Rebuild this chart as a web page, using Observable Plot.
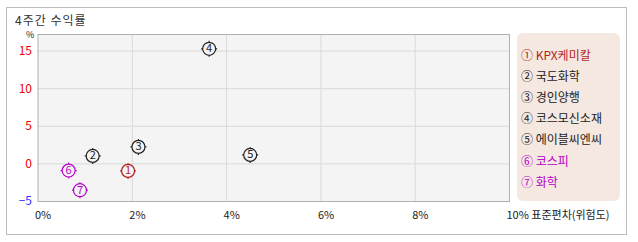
<!DOCTYPE html>
<html><head><meta charset="utf-8">
<script src="https://cdn.jsdelivr.net/npm/d3@7"></script>
<script src="https://cdn.jsdelivr.net/npm/@observablehq/plot@0.6"></script>
<style>
body{margin:0;background:#fff;font-family:"Noto Sans CJK KR","Noto Sans",sans-serif;}
#wrap{position:relative;width:638px;height:242px;overflow:hidden;}
#border{position:absolute;left:6px;top:7px;width:621px;height:228px;border:1px solid #bdbdbd;box-sizing:border-box;}
#title{position:absolute;left:15px;top:14px;font-size:12px;color:#333;line-height:12px;letter-spacing:1px;}
#chart{position:absolute;left:0;top:0;}
#legend{position:absolute;left:517px;top:33px;width:103px;height:168px;background:#f5e8e1;border-radius:6px;}
.li{position:absolute;left:4px;font-size:12px;line-height:16px;white-space:nowrap;}
</style></head>
<body><div id="wrap"><div id="border"></div><div id="title">4주간 수익률</div><div id="chart"></div><div id="legend"></div></div>
<script>
const names = ["KPX케미칼","국도화학","경인양행","코스모신소재","에이블씨엔씨","코스피","화학"];
const marks = ["①","②","③","④","⑤","⑥","⑦"];
const risk = [1.91,1.16,2.13,3.63,4.50,0.65,0.89];
const ret = [-0.93,1.06,2.26,15.3,1.19,-0.89,-3.5];
const kind = ["target","peer","peer","peer","peer","index","index"];
const xTicks = [0,2,4,6,8,10];
const yTicksPos = [0,5,10,15];
const yTicksNeg = [-5];
const xTitle = "표준편차(위험도)";
const yUnit = "%";

const kindColor = {target:"#b41e1e", peer:"#222222", index:"#b400c8"};
const data = names.map((n,i)=>({name:n, mark:marks[i], num:String(i+1), x:risk[i], y:ret[i], kind:kind[i]}));

const symbol = {draw(ctx, size){
  const r = Math.sqrt(size/Math.PI);
  ctx.moveTo(r,0); ctx.arc(0,0,r,0,2*Math.PI);
  ctx.moveTo(0,-r); ctx.lineTo(0,-r-1.5);
  ctx.moveTo(0,r); ctx.lineTo(0,r+1.5);
  ctx.moveTo(-r,0); ctx.lineTo(-r-1.5,0);
  ctx.moveTo(r,0); ctx.lineTo(r+1.5,0);
}};

const plot = Plot.plot({
  width:638, height:242,
  marginLeft:37.5, marginRight:129, marginTop:34, marginBottom:41,
  style:{fontFamily:'"Noto Sans CJK KR", sans-serif', fontSize:"11px", background:"transparent", overflow:"visible"},
  x:{domain:[0,10]},
  y:{domain:[-5,17.2]},
  marks:[
    Plot.frame({fill:"#f4f4f4"}),
    Plot.gridX([2,4,6,8], {stroke:"#d9d9d9", strokeOpacity:1}),
    Plot.gridY([0,5,10,15], {stroke:"#d9d9d9", strokeOpacity:1}),
    Plot.frame({stroke:"#b0b0b0"}),
    Plot.axisX(xTicks, {tickSize:0, tickPadding:10, textAnchor:"start", dx:-3, fill:"#222", letterSpacing:"0.4px",
      tickFormat:d => d===10 ? `${d}% ${xTitle}` : `${d}%`, label:null}),
    Plot.axisY(yTicksPos, {tickSize:0, tickPadding:6, fill:"#ee0000", fontSize:12, label:null}),
    Plot.axisY(yTicksNeg, {tickSize:0, tickPadding:6, fill:"#3333ff", fontSize:12, label:null}),
    Plot.text([yUnit], {frameAnchor:"top-left", dx:-12, dy:1, lineAnchor:"middle", text:d=>d, fill:"#222", fontSize:9}),
    Plot.dot(data, {x:"x", y:"y", r:6.5, symbol, stroke:d=>kindColor[d.kind], strokeWidth:1.2, fill:"#f4f4f4"}),
    Plot.text(data, {x:"x", y:"y", text:"num", fill:d=>kindColor[d.kind], fontSize:11})
  ]
});
document.getElementById("chart").appendChild(plot);

const lg = document.getElementById("legend");
data.forEach((d,i)=>{
  const el = document.createElement("div");
  el.className = "li";
  el.style.top = (14 + i*21.1) + "px";
  el.style.color = kindColor[d.kind];
  el.textContent = d.mark + " " + d.name;
  lg.appendChild(el);
});
</script></body></html>
